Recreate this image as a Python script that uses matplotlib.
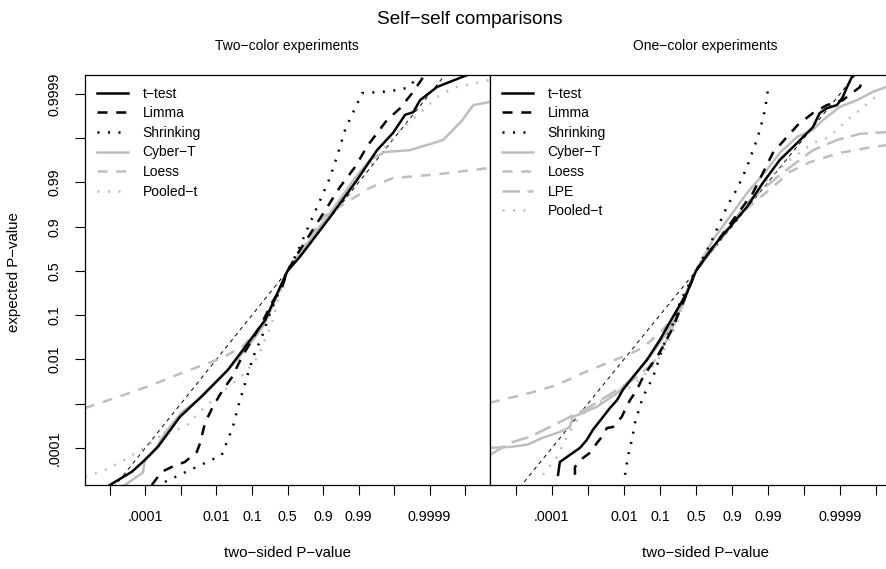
import matplotlib
matplotlib.use("Agg")
import matplotlib.pyplot as plt
import numpy as np

plt.rcParams['font.family'] = ['Liberation Sans', 'DejaVu Sans']

# All coordinates are on a base-10 logit scale: log10(p / (1 - p))
tick_pos_x = [-5, -4, -3, -2, -1, 0, 1, 2, 3, 4, 5]
tick_pos_y = [-4, -3, -2, -1, 0, 1, 2, 3, 4]
label_pos = [-4, -2, -1, 0, 1, 2, 4]
label_txt = [".0001", "0.01", "0.1", "0.5", "0.9", "0.99", "0.9999"]

# ---------------- Two-color experiments ----------------
L_ttest_x = [-5.0, -4.38, -4.01, -3.65, -3.03, -2.46, -1.68, -1.11, -0.63, 0.0, 0.35, 1.20, 1.96, 2.52, 2.97, 3.31, 3.54, 3.73, 4.21, 5.06, 5.4]
L_ttest_y = [-4.84, -4.54, -4.27, -3.98, -3.30, -2.87, -2.24, -1.63, -1.11, 0.0, 0.32, 1.22, 2.06, 2.73, 3.12, 3.53, 3.59, 3.86, 4.16, 4.43, 4.6]

L_limma_x = [-3.82, -3.54, -3.25, -2.89, -2.55, -2.46, -2.32, -2.10, -1.82, -1.56, -1.28, -1.00, -0.72, -0.44, -0.15, 0.0, 0.30, 1.48, 1.90, 2.27, 2.80, 3.17, 3.51, 3.82, 3.96]
L_limma_y = [-4.84, -4.54, -4.43, -4.32, -4.09, -3.89, -3.43, -3.07, -2.69, -2.40, -1.94, -1.56, -1.18, -0.72, -0.36, 0.0, 0.41, 1.90, 2.35, 2.85, 3.41, 3.68, 4.02, 4.38, 4.59]

L_shrink_x = [-3.45, -2.61, -2.13, -1.85, -1.68, -1.54, -1.39, -1.25, -1.11, -0.92, -0.72, -0.49, -0.30, 0.0, 0.27, 0.63, 0.92, 1.20, 1.39, 1.62, 1.85, 2.10, 2.69, 3.08, 3.37, 3.54, 3.73]
L_shrink_y = [-4.77, -4.45, -4.27, -4.16, -3.82, -3.53, -3.07, -2.69, -2.31, -1.85, -1.49, -0.95, -0.59, 0.0, 0.41, 1.08, 1.60, 2.12, 2.58, 3.19, 3.59, 4.02, 4.05, 4.09, 4.14, 4.27, 4.50]

L_cyber_x = [-4.58, -4.07, -4.01, -3.68, -3.45, -2.97, -2.41, -1.76, -1.11, -0.63, 0.0, 0.35, 1.20, 1.90, 2.32, 2.75, 3.45, 4.38, 4.66, 4.92, 5.23, 5.70]
L_cyber_y = [-4.84, -4.56, -4.27, -3.98, -3.66, -3.19, -2.85, -2.31, -1.72, -1.18, 0.0, 0.41, 1.31, 2.10, 2.51, 2.69, 2.73, 2.96, 3.19, 3.41, 3.75, 3.82]

L_loess_x = [-5.70, -4.77, -3.82, -2.89, -1.85, -1.28, -0.63, 0.0, 0.49, 1.0, 1.76, 2.32, 2.97, 3.73, 4.49, 5.70]
L_loess_y = [-3.10, -2.85, -2.58, -2.28, -1.97, -1.72, -1.15, 0.0, 0.59, 1.22, 1.60, 1.88, 2.10, 2.15, 2.21, 2.33]

L_pooled_x = [-5.70, -5.14, -4.58, -4.01, -3.45, -2.89, -2.32, -1.76, -1.20, -0.83, -0.44, -0.21, 0.0, 0.63, 1.48, 2.32, 3.17, 3.73, 4.21, 4.66, 5.42, 5.70]
L_pooled_y = [-4.66, -4.50, -4.27, -3.98, -3.66, -3.53, -3.07, -2.69, -2.31, -1.94, -1.18, -0.50, 0.0, 0.70, 1.60, 2.40, 3.19, 3.57, 3.93, 4.14, 4.27, 4.32]

# ---------------- One-color experiments ----------------
R_ttest_x = [-3.83, -3.78, -3.50, -3.22, -3.03, -2.86, -2.58, -2.39, -2.19, -2.03, -1.75, -1.36, -1.0, -0.64, -0.25, 0.0, 0.47, 1.42, 1.86, 2.33, 2.81, 3.25, 3.44, 3.64, 3.92, 4.08, 4.19, 4.36]
R_ttest_y = [-4.61, -4.32, -4.16, -4.00, -3.82, -3.59, -3.30, -3.10, -2.92, -2.69, -2.40, -2.01, -1.56, -1.04, -0.50, 0.0, 0.54, 1.45, 1.99, 2.51, 2.89, 3.25, 3.57, 3.68, 3.75, 3.93, 4.14, 4.43]

R_limma_x = [-3.36, -3.36, -3.14, -2.94, -2.75, -2.61, -2.47, -2.31, -2.06, -1.97, -1.83, -1.64, -1.47, -1.28, -1.08, -0.92, -0.67, -0.44, -0.25, 0.0, 0.67, 1.58, 2.14, 2.53, 2.83, 3.25, 3.64, 4.08, 4.33, 4.56, 4.61]
R_limma_y = [-4.61, -4.43, -4.23, -4.11, -3.89, -3.75, -3.55, -3.53, -3.30, -3.14, -2.92, -2.69, -2.40, -2.17, -1.94, -1.72, -1.33, -0.88, -0.50, 0.0, 0.75, 1.76, 2.67, 3.03, 3.30, 3.57, 3.75, 3.86, 4.02, 4.16, 4.32]

R_shrink_x = [-1.97, -1.89, -1.78, -1.69, -1.56, -1.47, -1.33, -1.19, -1.06, -0.92, -0.67, -0.44, 0.0, 0.39, 0.86, 1.17, 1.42, 1.56, 1.69, 1.78, 1.92, 2.0]
R_shrink_y = [-4.61, -4.20, -3.82, -3.43, -3.07, -2.85, -2.62, -2.40, -2.08, -1.72, -1.27, -0.70, 0.0, 0.59, 1.45, 1.90, 2.35, 2.67, 2.96, 3.19, 3.64, 4.09]

R_cyber_x = [-5.72, -5.17, -4.69, -4.25, -3.78, -3.50, -3.42, -3.14, -2.75, -2.19, -1.75, -1.28, -0.81, -0.44, -0.22, 0.0, 0.47, 1.42, 1.97, 2.33, 2.81, 3.25, 3.53, 4.0, 4.47, 4.92, 5.67]
R_cyber_y = [-4.0, -3.98, -3.93, -3.77, -3.64, -3.53, -3.30, -3.21, -3.07, -2.76, -2.40, -1.94, -1.40, -0.88, -0.38, 0.0, 0.70, 1.76, 2.28, 2.67, 3.03, 3.19, 3.41, 3.71, 3.86, 4.05, 4.27]

R_loess_x = [-5.72, -5.17, -4.61, -3.86, -3.14, -2.58, -2.03, -1.47, -0.92, -0.53, -0.25, 0.0, 0.67, 1.22, 1.69, 2.14, 2.61, 3.17, 4.0, 4.75, 5.67]
R_loess_y = [-2.98, -2.87, -2.76, -2.58, -2.31, -2.12, -1.94, -1.74, -1.33, -0.95, -0.43, 0.0, 0.70, 1.27, 1.60, 1.90, 2.24, 2.46, 2.67, 2.78, 2.89]

R_lpe_x = [-5.72, -5.17, -4.61, -4.06, -3.50, -2.94, -2.19, -1.64, -1.19, -0.81, -0.44, 0.0, 0.67, 1.5, 2.33, 3.25, 3.92, 4.56, 5.67]
R_lpe_y = [-4.16, -3.89, -3.75, -3.53, -3.30, -3.07, -2.69, -2.40, -2.08, -1.56, -0.93, 0.0, 0.75, 1.60, 2.17, 2.73, 2.96, 3.10, 3.16]

R_pooled_x = [-4.25, -3.86, -3.58, -3.31, -2.94, -2.39, -1.83, -1.28, -0.92, -0.53, -0.25, 0.0, 0.67, 1.42, 1.97, 2.61, 3.25, 3.72, 4.19, 4.56, 5.11]
R_pooled_y = [-4.61, -4.20, -3.75, -3.37, -3.07, -2.85, -2.62, -2.24, -1.85, -1.18, -0.50, 0.0, 0.70, 1.45, 2.06, 2.51, 2.89, 3.03, 3.41, 3.64, 4.02]

GRAY = '#BEBEBE'
styles = {
    't\u2212test':   dict(color='black', lw=1.8, ls='-'),
    'Limma':         dict(color='black', lw=1.8, ls=(0, (4, 3.5))),
    'Shrinking':     dict(color='black', lw=1.8, ls=(0, (0.8, 3.4))),
    'Cyber\u2212T':  dict(color=GRAY, lw=1.8, ls='-'),
    'Loess':         dict(color=GRAY, lw=1.8, ls=(0, (4, 3.5))),
    'LPE':           dict(color=GRAY, lw=1.8, ls=(0, (7, 3))),
    'Pooled\u2212t': dict(color=GRAY, lw=1.8, ls=(0, (0.8, 3.4))),
}

left_series = [
    ('t\u2212test', L_ttest_x, L_ttest_y),
    ('Limma', L_limma_x, L_limma_y),
    ('Shrinking', L_shrink_x, L_shrink_y),
    ('Cyber\u2212T', L_cyber_x, L_cyber_y),
    ('Loess', L_loess_x, L_loess_y),
    ('Pooled\u2212t', L_pooled_x, L_pooled_y),
]
right_series = [
    ('t\u2212test', R_ttest_x, R_ttest_y),
    ('Limma', R_limma_x, R_limma_y),
    ('Shrinking', R_shrink_x, R_shrink_y),
    ('Cyber\u2212T', R_cyber_x, R_cyber_y),
    ('Loess', R_loess_x, R_loess_y),
    ('LPE', R_lpe_x, R_lpe_y),
    ('Pooled\u2212t', R_pooled_x, R_pooled_y),
]

W, H = 886, 569
fig = plt.figure(figsize=(W / 100, H / 100), dpi=100)

def px_axes(x0, x1, y0, y1):
    return fig.add_axes([x0 / W, 1 - y1 / H, (x1 - x0) / W, (y1 - y0) / H])

axL = px_axes(85, 490, 75, 485)
axR = px_axes(490, 900, 75, 485)

TICK_FS = 10.3
LAB_FS = 10.8
ylim = (-4.84, 4.43)
for ax, series, xlim, sub, subx in [(axL, left_series, (-5.70, 5.70), 'Two\u2212color experiments', 287),
                                    (axR, right_series, (-5.72, 5.67), 'One\u2212color experiments', 705)]:
    ax.set_xlim(*xlim)
    ax.set_ylim(*ylim)
    d = np.array([-6, 6])
    ax.plot(d, d, color='black', lw=0.7, ls=(0, (4, 4)))
    for name, xs, ys in reversed(series):
        ax.plot(xs, ys, label=name, **styles[name])
    h, l = ax.get_legend_handles_labels()
    order = [l.index(s[0]) for s in series]
    ax.legend([h[i] for i in order], [l[i] for i in order], loc='upper left',
              frameon=False, fontsize=10, handlelength=2.25, handletextpad=1.05,
              labelspacing=0.40, borderaxespad=0.55, borderpad=0.3)
    ax.set_xticks(tick_pos_x)
    ax.set_xticklabels(['' if t not in label_pos else label_txt[label_pos.index(t)] for t in tick_pos_x])
    ax.tick_params(axis='x', length=7, width=0.8, pad=11, labelsize=TICK_FS)
    fig.text(subx / W, 1 - 46 / H, sub, ha='center', va='center', fontsize=10)
    fig.text(subx / W, 1 - 553 / H, 'two\u2212sided P\u2212value', ha='center', va='center', fontsize=LAB_FS)
    for sp in ax.spines.values():
        sp.set_linewidth(0.9)

axL.set_yticks(tick_pos_y)
axL.set_yticklabels(['' if t not in label_pos else label_txt[label_pos.index(t)] for t in tick_pos_y],
                    rotation=90, va='center')
axL.tick_params(axis='y', length=7, width=0.8, pad=10, labelsize=TICK_FS)
fig.text(14 / W, 1 - 272 / H, 'expected P\u2212value', ha='center', va='center', rotation=90, fontsize=LAB_FS)
axR.set_yticks([])

fig.text(470 / W, 1 - 20 / H, 'Self\u2212self comparisons', ha='center', va='center', fontsize=13.7)

fig.savefig('out.png', dpi=100)
